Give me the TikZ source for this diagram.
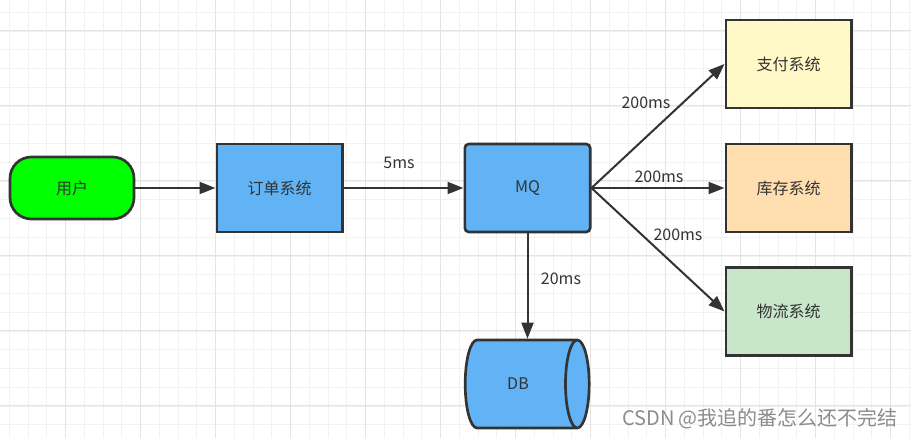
\documentclass[tikz,border=0pt]{standalone}
\usepackage{fontspec}
\setmainfont{Noto Sans CJK SC}
\usetikzlibrary{shapes.geometric,arrows.meta}

\definecolor{lineC}{HTML}{333333}
\definecolor{boxBlue}{HTML}{61B3F5}
\definecolor{userGreen}{HTML}{00FF00}
\definecolor{payYellow}{HTML}{FFF9C8}
\definecolor{stockPeach}{HTML}{FFDFB0}
\definecolor{shipGreen}{HTML}{C8E6CA}
\definecolor{gridMinor}{HTML}{F2F2F2}
\definecolor{gridMajor}{HTML}{E4E4E4}

\begin{document}
\begin{tikzpicture}[x=0.75pt, y=-0.75pt,
  font=\fontsize{12}{14}\selectfont,
  sysbox/.style={draw=lineC, line width=2pt, minimum width=94pt,
    minimum height=66pt, text=lineC, inner sep=0pt},
  flow/.style={draw=lineC, line width=1.5pt,
    -{Triangle[length=12pt,width=9pt]}},
  lbl/.style={text=lineC, inner sep=0pt}]

% --- Dimensions ---
\def\W{911}
\def\H{438}

\useasboundingbox (0,0) rectangle (\W,\H);
\fill[white] (0,0) rectangle (\W,\H);

% --- Grille de fond ---
\foreach \k in {0,...,48}
  \draw[gridMinor, line width=0.75pt] (9.3+\k*18.75,0) -- (9.3+\k*18.75,\H);
\foreach \k in {0,...,23}
  \draw[gridMinor, line width=0.75pt] (0,12.3+\k*18.75) -- (\W,12.3+\k*18.75);
\foreach \k in {0,...,11}
  \draw[gridMajor, line width=0.75pt] (65.6+\k*75,0) -- (65.6+\k*75,\H);
\foreach \k in {0,...,5}
  \draw[gridMajor, line width=0.75pt] (0,31+\k*75) -- (\W,31+\k*75);

% --- Noeuds ---
\node[sysbox, fill=userGreen, minimum width=93pt, minimum height=46.5pt,
  rounded corners=16pt] (user) at (72,188) {用户};
\node[sysbox, fill=boxBlue] (order) at (279.5,188) {订单系统};
\node[sysbox, fill=boxBlue, rounded corners=3pt] (mq) at (527.5,188) {MQ};
\node[sysbox, fill=payYellow] (pay) at (788.5,64) {支付系统};
\node[sysbox, fill=stockPeach] (stock) at (788.5,188) {库存系统};
\node[sysbox, fill=shipGreen] (ship) at (788.5,311.5) {物流系统};
\node[cylinder, draw=lineC, line width=2pt, fill=boxBlue, text=lineC,
  minimum height=93pt, minimum width=66pt, aspect=1.15] (db) at (518,384) {DB};

% --- Liaisons ---
\draw[flow] (user) -- (order);
\draw[flow] (order) -- (mq);
\draw[flow] (mq.south) -- (mq.south |- db.north);
\draw[flow] (mq.east) -- (pay.west);
\draw[flow] (mq.east) -- (stock.west);
\draw[flow] (mq.east) -- (ship.west);

% --- Étiquettes des délais ---
\node[lbl] (t1) at (399,163) {5ms};
\node[lbl] (t2) at (561,279) {20ms};
\node[lbl] (t3) at (646,103) {200ms};
\node[lbl] (t4) at (659,177) {200ms};
\node[lbl] (t5) at (678,235) {200ms};

% --- Filigrane ---
\node[text=black!45, font=\fontsize{15}{17}\selectfont] (mark) at (760,419)
  {CSDN @我追的番怎么还不完结};

\end{tikzpicture}
\end{document}
